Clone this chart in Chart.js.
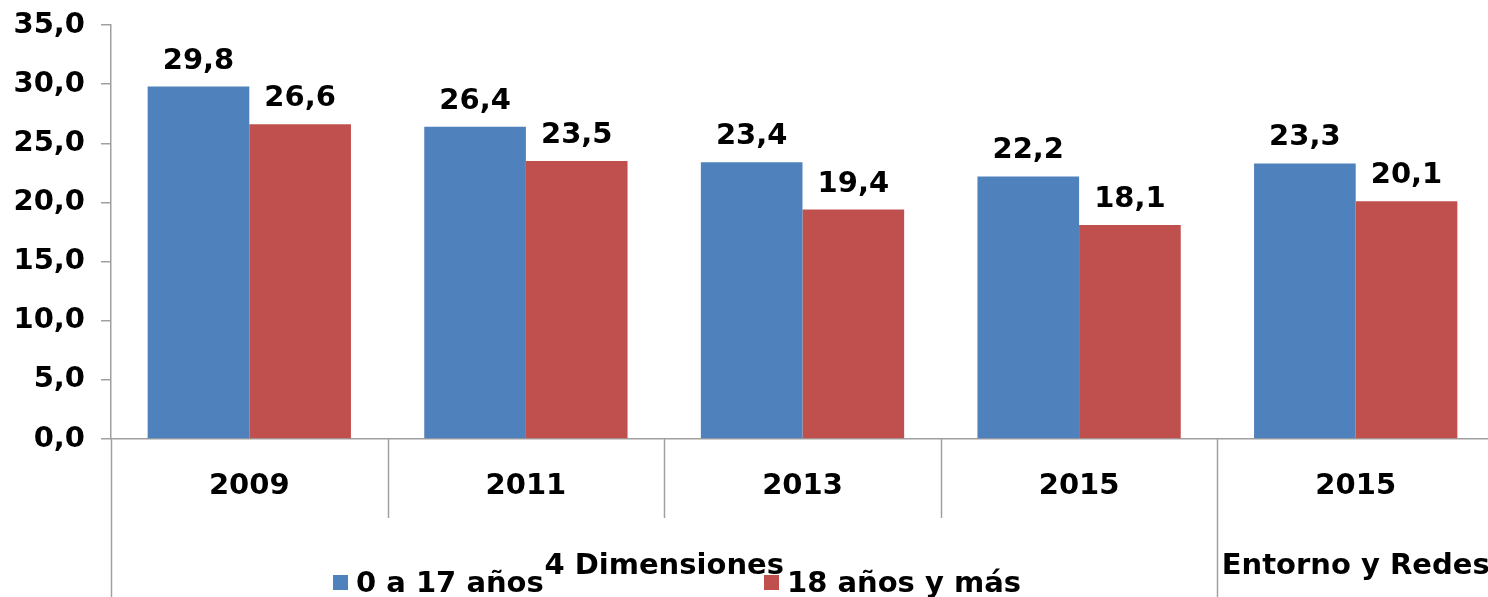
<!DOCTYPE html>
<html>
<head>
<meta charset="utf-8">
<script src="https://cdn.jsdelivr.net/npm/chart.js@4/dist/chart.umd.min.js"></script>
<style>
  html, body { margin: 0; padding: 0; overflow: hidden; background: #fff; }
  #wrap { width: 1494px; height: 597px; }
</style>
</head>
<body>
<div id="wrap"><canvas id="myChart"></canvas></div>
<script>
const years = ['2009', '2011', '2013', '2015', '2015'];
const groups = [
  { label: '4 Dimensiones', from: 0, to: 3 },
  { label: 'Entorno y Redes', from: 4, to: 4 }
];
const kids = [29.8, 26.4, 23.4, 22.2, 23.3];
const adults = [26.6, 23.5, 19.4, 18.1, 20.1];
const yTicks = [0, 5, 10, 15, 20, 25, 30, 35];

const FONT = "'DejaVu Sans', Verdana, sans-serif";
const axisGray = '#a0a0a0';

function fmt(v) {
  return v.toFixed(1).replace('.', ',');
}

const extrasPlugin = {
  id: 'extras',
  afterDatasetsDraw(chart) {
    const ctx = chart.ctx;
    ctx.save();
    ctx.font = 'bold 29px ' + FONT;
    ctx.fillStyle = '#000';
    ctx.textAlign = 'center';
    ctx.textBaseline = 'alphabetic';
    chart.data.datasets.forEach((ds, i) => {
      chart.getDatasetMeta(i).data.forEach((bar, j) => {
        ctx.fillText(fmt(ds.data[j]), bar.x, bar.y - 18);
      });
    });
    ctx.restore();
  },
  afterDraw(chart) {
    const ctx = chart.ctx;
    const x = chart.scales.x;
    const area = chart.chartArea;
    const w = (x.right - x.left) / years.length;
    const bottom = chart.height;

    ctx.save();
    ctx.strokeStyle = axisGray;
    ctx.lineWidth = 1.5;
    // separators between categories
    for (let k = 0; k < years.length; k++) {
      const px = Math.round(x.left + k * w) + 0.5;
      const isGroupEdge = groups.some(g => g.from === k);
      ctx.beginPath();
      ctx.moveTo(px, area.bottom);
      ctx.lineTo(px, isGroupEdge ? bottom : area.bottom + 79);
      ctx.stroke();
    }

    // group labels
    ctx.font = 'bold 29px ' + FONT;
    ctx.fillStyle = '#000';
    ctx.textAlign = 'center';
    ctx.textBaseline = 'alphabetic';
    groups.forEach(g => {
      const cx = (x.getPixelForValue(g.from) + x.getPixelForValue(g.to)) / 2;
      ctx.fillText(g.label, cx, 574);
    });

    // legend
    const legendX = [333, 764];
    ctx.textAlign = 'left';
    chart.data.datasets.forEach((ds, i) => {
      ctx.fillStyle = ds.backgroundColor;
      ctx.fillRect(legendX[i], 575, 15, 15);
      ctx.fillStyle = '#000';
      ctx.fillText(ds.label, legendX[i] + 23, 592);
    });
    ctx.restore();
  }
};

new Chart(document.getElementById('myChart'), {
  type: 'bar',
  data: {
    labels: years,
    datasets: [
      { label: '0 a 17 años', data: kids, backgroundColor: '#4f81bd' },
      { label: '18 años y más', data: adults, backgroundColor: '#c0504d' }
    ]
  },
  options: {
    responsive: true,
    maintainAspectRatio: false,
    animation: false,
    layout: { padding: { top: 25, right: 0, bottom: 0, left: 0 } },
    datasets: {
      bar: { categoryPercentage: 0.735, barPercentage: 1.0 }
    },
    plugins: {
      legend: { display: false },
      tooltip: { enabled: false }
    },
    scales: {
      x: {
        grid: { display: false, drawTicks: false },
        border: { display: true, color: axisGray, width: 1.5 },
        ticks: {
          color: '#000',
          font: { family: FONT, size: 29, weight: 'bold' },
          padding: 30,
          maxRotation: 0
        },
        afterFit(scale) {
          scale.height = 158;
          scale.paddingLeft = 0;
          scale.paddingRight = 0;
        }
      },
      y: {
        min: 0,
        max: 35,
        afterBuildTicks(scale) { scale.ticks = yTicks.map(v => ({ value: v })); },
        grid: { drawOnChartArea: false, drawTicks: true, tickLength: 10, color: axisGray, lineWidth: 1.5 },
        border: { display: true, color: axisGray, width: 1.5 },
        ticks: {
          color: '#000',
          font: { family: FONT, size: 29, weight: 'bold' },
          padding: 16,
          callback: v => fmt(v)
        },
        afterFit(scale) {
          scale.width = 111;
          scale.paddingTop = 0;
          scale.paddingBottom = 0;
        }
      }
    }
  },
  plugins: [extrasPlugin]
});
</script>
</body>
</html>
